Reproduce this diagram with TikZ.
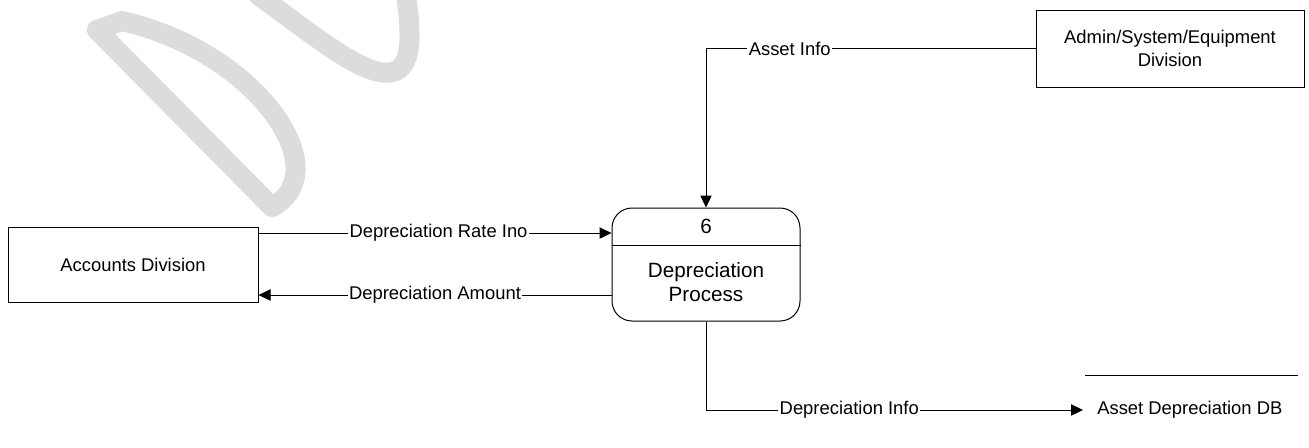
\documentclass[tikz,border=0pt]{standalone}
\usepackage{fontspec}
\setmainfont{Liberation Sans}
\usetikzlibrary{arrows.meta,positioning,calc}
\definecolor{wmGray}{RGB}{220,220,220}

\begin{document}
\begin{tikzpicture}[x=0.75pt,y=-0.75pt,
  ext/.style={draw,line width=0.75pt,align=center,font=\fontsize{13.8}{17}\selectfont},
  procbox/.style={draw,line width=0.75pt,rounded corners=15pt,minimum width=141pt,minimum height=84.75pt},
  flow/.style={-{Triangle[length=9pt,width=8.5pt]},line width=0.75pt},
  lbl/.style={fill=white,inner sep=1pt,font=\fontsize{13.8}{17}\selectfont},
  wmark/.style={draw=wmGray,line width=15pt,line join=round,line cap=round}
]
  \useasboundingbox (0,0) rectangle (1309,447);
  % watermark
  \begin{scope}
    \clip (0,0) rectangle (1309,447);
    \draw[wmark] (97,30) -- (272,207) .. controls (338,172) and (258,52) .. (122,21) -- cycle;
    \draw[wmark] (258,-5) .. controls (320,40) and (370,82) .. (396,71) .. controls (413,63) and (411,30) .. (406,-5);
  \end{scope}

  % entities
  \node[ext,minimum width=187.5pt,minimum height=56.25pt] (acc) at (133,264.5) {Accounts Division};
  \node[ext,minimum width=201pt,minimum height=57.75pt] (admin) at (1170,48.5) {Admin/System/Equipment\\Division};

  % process
  \node[procbox] (proc) at (706,264.5) {};
  \draw[line width=0.75pt] ([yshift=-28.5pt]proc.north west) -- ([yshift=-28.5pt]proc.north east);
  \node[font=\fontsize{15.5}{18}\selectfont] (pnum) at (706,226) {6};
  \node[font=\fontsize{15.5}{18}\selectfont,align=center] (pname) at (706,282) {Depreciation\\Process};

  % data store
  \node[anchor=west,inner xsep=10.5pt,font=\fontsize{13.8}{17}\selectfont] (db) at (1083,410) {Asset Depreciation DB};
  \draw[line width=0.75pt] (1085,375) -- (1298,375);

  % flows
  \draw[flow] (admin.west) -| node[lbl,pos=0.373] {Asset Info} (proc.north);
  \draw[flow] ([yshift=23.6pt]acc.east) -- node[lbl,pos=0.51] {Depreciation Rate Ino} ([yshift=23.6pt]acc.east -| proc.west);
  \draw[flow] ([yshift=-22.9pt]proc.west) -- node[lbl] {Depreciation Amount} ([yshift=-22.9pt]proc.west -| acc.east);
  \draw[flow] (proc.south) |- node[lbl,pos=0.69] {Depreciation Info} (db.west);
\end{tikzpicture}
\end{document}
